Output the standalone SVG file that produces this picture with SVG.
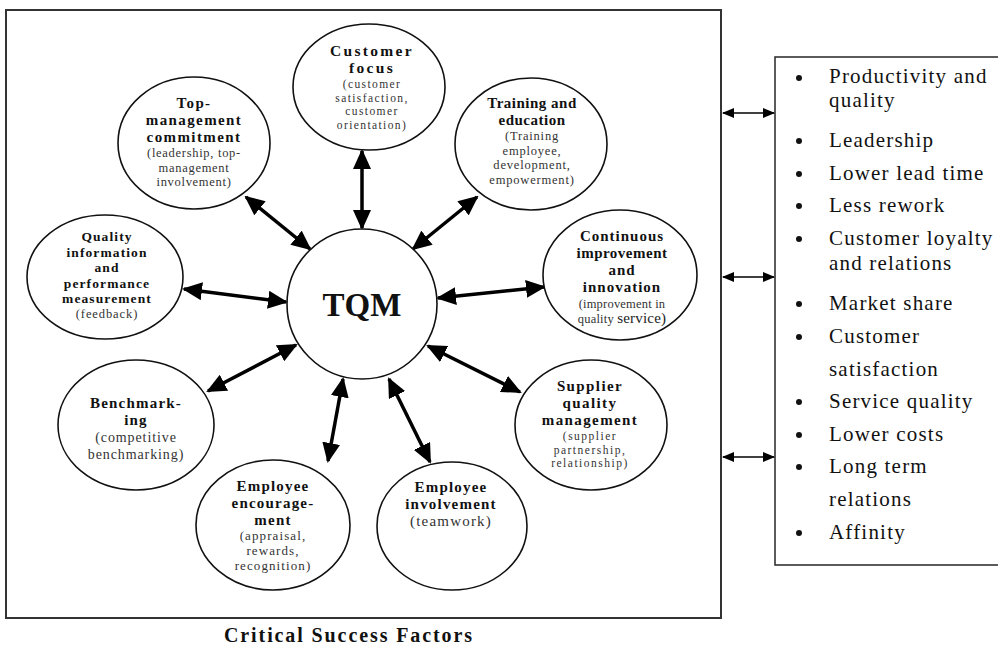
<svg xmlns="http://www.w3.org/2000/svg" width="998" height="646" viewBox="0 0 998 646">
<defs>
<marker id="ah" viewBox="0 0 20 18" markerWidth="20" markerHeight="18" refX="18" refY="9" orient="auto-start-reverse" markerUnits="userSpaceOnUse">
<path d="M0,0 L20,9 L0,18 z" fill="#000"/>
</marker>
<marker id="sa" viewBox="0 0 12 10" markerWidth="12" markerHeight="10" refX="11" refY="5" orient="auto-start-reverse" markerUnits="userSpaceOnUse">
<path d="M0,0 L12,5 L0,10 z" fill="#000"/>
</marker>
</defs>
<style>
.node ellipse{fill:#fff;stroke:#111;stroke-width:1.6}
.t{font-family:"Liberation Serif","Times New Roman",serif;font-weight:bold;font-size:15px;fill:#111;text-anchor:middle;letter-spacing:0.6px}
.s{font-family:"Liberation Serif","Times New Roman",serif;font-size:12.5px;fill:#333;text-anchor:middle}
.li{font-family:"Liberation Serif","Times New Roman",serif;font-size:21px;fill:#111;letter-spacing:1.2px}
.big{stroke:#000;stroke-width:3.5;fill:none;marker-start:url(#ah);marker-end:url(#ah)}
.sm{stroke:#000;stroke-width:1.6;fill:none;marker-start:url(#sa);marker-end:url(#sa)}
</style>
<rect width="998" height="646" fill="#fff"/>
<rect x="6" y="10" width="715" height="608" fill="none" stroke="#333" stroke-width="2"/>
<rect x="775" y="57" width="240" height="508" fill="#fff" stroke="#333" stroke-width="1.6"/>

<g id="connectors">
<line class="big" x1="362" y1="151" x2="362" y2="228"/>
<line class="big" x1="246" y1="197" x2="310" y2="249"/>
<line class="big" x1="477" y1="197" x2="413" y2="249"/>
<line class="big" x1="184" y1="289" x2="286" y2="302"/>
<line class="big" x1="438" y1="298" x2="544" y2="287"/>
<line class="big" x1="208" y1="391" x2="296" y2="345"/>
<line class="big" x1="428" y1="346" x2="520" y2="392"/>
<line class="big" x1="328" y1="461" x2="343" y2="379"/>
<line class="big" x1="389" y1="379" x2="430" y2="462"/>
<line class="sm" x1="723" y1="113" x2="774" y2="113"/>
<line class="sm" x1="723" y1="277" x2="774" y2="277"/>
<line class="sm" x1="723" y1="457" x2="774" y2="457"/>
</g>

<g id="tqm" class="node">
<ellipse cx="362" cy="304" rx="75" ry="75"/>
<text x="362" y="316" class="t" style="font-size:33px;letter-spacing:0">TQM</text>
</g>

<g id="customer-focus" class="node">
<ellipse cx="369" cy="87" rx="76" ry="63"/>
<text class="t" style="font-size:15.5px;letter-spacing:2.3px"><tspan x="372" y="56">Customer</tspan><tspan x="372" y="73">focus</tspan></text>
<text class="s" style="font-size:11.5px;letter-spacing:1.4px"><tspan x="372" y="88">(customer</tspan><tspan x="372" y="101.5">satisfaction,</tspan><tspan x="372" y="115">customer</tspan><tspan x="372" y="128.5">orientation)</tspan></text>
</g>

<g id="top-management" class="node">
<ellipse cx="194" cy="143" rx="76" ry="66"/>
<text class="t" style="letter-spacing:1.4px"><tspan x="194" y="108">Top-</tspan><tspan x="194" y="125">management</tspan><tspan x="194" y="142">commitment</tspan></text>
<text class="s" style="letter-spacing:0.7px"><tspan x="194" y="157">(leadership, top-</tspan><tspan x="194" y="171.5">management</tspan><tspan x="194" y="186">involvement)</tspan></text>
</g>

<g id="training" class="node">
<ellipse cx="531" cy="144" rx="76" ry="66"/>
<text class="t" style="letter-spacing:0.5px"><tspan x="532" y="108">Training and</tspan><tspan x="532" y="125">education</tspan></text>
<text class="s" style="letter-spacing:0.8px"><tspan x="532" y="140">(Training</tspan><tspan x="532" y="154.5">employee,</tspan><tspan x="532" y="169">development,</tspan><tspan x="532" y="183.5">empowerment)</tspan></text>
</g>

<g id="quality-information" class="node">
<ellipse cx="105" cy="277" rx="78" ry="62"/>
<text class="t" style="font-size:13.5px;letter-spacing:1.1px"><tspan x="107" y="241">Quality</tspan><tspan x="107" y="256.5">information</tspan><tspan x="107" y="272">and</tspan><tspan x="107" y="287.5">performance</tspan><tspan x="107" y="303">measurement</tspan></text>
<text class="s" style="letter-spacing:0.9px"><tspan x="107" y="318">(feedback)</tspan></text>
</g>

<g id="continuous-improvement" class="node">
<ellipse cx="620" cy="275" rx="77" ry="65"/>
<text class="t" style="letter-spacing:1px"><tspan x="622" y="241">Continuous</tspan><tspan x="622" y="258" style="letter-spacing:0.5px">improvement</tspan><tspan x="622" y="275">and</tspan><tspan x="622" y="292">innovation</tspan></text>
<text class="s" style="letter-spacing:0.2px"><tspan x="622" y="307.5">(improvement in</tspan><tspan x="622" y="322.5">quality <tspan style="font-size:15px;fill:#222">service)</tspan></tspan></text>
</g>

<g id="benchmarking" class="node">
<ellipse cx="136" cy="425" rx="78" ry="65"/>
<text class="t" style="letter-spacing:1.2px"><tspan x="136" y="408">Benchmark-</tspan><tspan x="136" y="425">ing</tspan></text>
<text class="s" style="font-size:14px;letter-spacing:0.9px"><tspan x="136" y="442">(competitive</tspan><tspan x="136" y="459">benchmarking)</tspan></text>
</g>

<g id="supplier-quality" class="node">
<ellipse cx="591" cy="425" rx="76" ry="65"/>
<text class="t" style="letter-spacing:1.4px"><tspan x="590" y="391">Supplier</tspan><tspan x="590" y="408">quality</tspan><tspan x="590" y="425">management</tspan></text>
<text class="s" style="font-size:11.5px;letter-spacing:1.5px"><tspan x="590" y="440">(supplier</tspan><tspan x="590" y="453.5">partnership,</tspan><tspan x="590" y="467">relationship)</tspan></text>
</g>

<g id="employee-encouragement" class="node">
<ellipse cx="273" cy="525" rx="77" ry="65"/>
<text class="t" style="letter-spacing:1.2px"><tspan x="273" y="491">Employee</tspan><tspan x="273" y="508">encourage-</tspan><tspan x="273" y="525">ment</tspan></text>
<text class="s" style="font-size:13px;letter-spacing:1.1px"><tspan x="273" y="540">(appraisal,</tspan><tspan x="273" y="555">rewards,</tspan><tspan x="273" y="570">recognition)</tspan></text>
</g>

<g id="employee-involvement" class="node">
<ellipse cx="452" cy="526" rx="75" ry="64"/>
<text class="t" style="letter-spacing:1.2px"><tspan x="451" y="492">Employee</tspan><tspan x="451" y="509">involvement</tspan></text>
<text class="s" style="font-size:15px;letter-spacing:1.2px"><tspan x="451" y="526">(teamwork)</tspan></text>
</g>

<g id="outcomes">
<g fill="#111">
<circle cx="799" cy="78" r="3"/><circle cx="799" cy="141" r="3"/><circle cx="799" cy="174" r="3"/><circle cx="799" cy="206" r="3"/><circle cx="799" cy="239" r="3"/><circle cx="799" cy="304" r="3"/><circle cx="799" cy="337" r="3"/><circle cx="799" cy="402" r="3"/><circle cx="799" cy="435" r="3"/><circle cx="799" cy="467" r="3"/><circle cx="799" cy="533" r="3"/>
</g>
<text class="li"><tspan x="829" y="83">Productivity and</tspan><tspan x="829" y="107">quality</tspan><tspan x="829" y="147">Leadership</tspan><tspan x="829" y="180">Lower lead time</tspan><tspan x="829" y="212">Less rework</tspan><tspan x="829" y="245">Customer loyalty</tspan><tspan x="829" y="270">and relations</tspan><tspan x="829" y="310">Market share</tspan><tspan x="829" y="343">Customer</tspan><tspan x="829" y="376">satisfaction</tspan><tspan x="829" y="408">Service quality</tspan><tspan x="829" y="441">Lower costs</tspan><tspan x="829" y="473">Long term</tspan><tspan x="829" y="506">relations</tspan><tspan x="829" y="539">Affinity</tspan></text>
</g>

<text x="348" y="642" class="t" style="font-size:20px;letter-spacing:0" textLength="248" lengthAdjust="spacing">Critical Success Factors</text>
</svg>
